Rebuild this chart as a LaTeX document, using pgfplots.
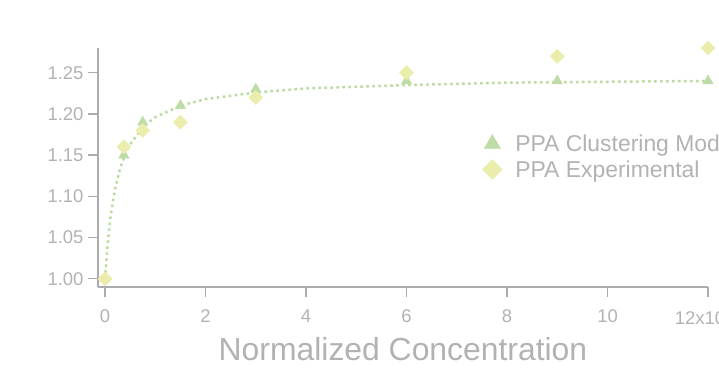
\documentclass[border=0pt]{standalone}
\usepackage{pgfplots}
\pgfplotsset{compat=1.18}
\usepackage{fontspec}
\setmainfont{Liberation Sans}

\definecolor{modelgreen}{RGB}{190,220,165}
\definecolor{expyellow}{RGB}{234,237,172}
\definecolor{fitgreen}{RGB}{186,219,158}
\definecolor{axisgray}{RGB}{172,172,172}
\definecolor{textgray}{RGB}{178,178,178}

\begin{document}
\begin{tikzpicture}[x=1bp,y=1bp]
\path[use as bounding box, clip] (0,0) rectangle (719,368);
\begin{axis}[
  at={(98bp,81bp)}, anchor=south west,
  scale only axis, width=610bp, height=239bp,
  xmin=-0.14, xmax=12, ymin=0.99, ymax=1.28,
  axis x line=bottom, axis y line=left,
  axis line style={-, axisgray, line width=1.3pt},
  tick style={axisgray, line width=1.3pt},
  tick align=outside, major tick length=10bp,
  xtick={0,2,4,6,8,10,12},
  xticklabels={0,2,4,6,8,10,{12x10$^{\mathsf{-3}}$}},
  ytick={1.00,1.05,1.10,1.15,1.20,1.25},
  yticklabel style={/pgf/number format/fixed, /pgf/number format/fixed zerofill,
    /pgf/number format/precision=2, xshift=-1bp},
  /pgf/number format/assume math mode=true,
  ticklabel style={font=\fontsize{18.5}{20}\selectfont, text=textgray},
  xticklabel style={yshift=-9bp},
  xlabel={Normalized Concentration},
  xlabel style={font=\fontsize{32}{36}\selectfont, text=textgray, yshift=-6bp},
  legend cell align=left,
  legend style={draw=none, fill=none, at={(0.625,0.545)}, anchor=west,
    font=\fontsize{23}{26}\selectfont, text=textgray, row sep=3.5bp},
  clip=false,
]
% fitted saturation curve
\addplot[fitgreen, line width=2.5bp, dash pattern=on 2.5bp off 3.5bp, forget plot] coordinates {
  (0,1.000) (0.05,1.041) (0.1,1.070) (0.15,1.092) (0.2,1.109) (0.3,1.134)
  (0.4,1.151) (0.5,1.163) (0.75,1.184) (1,1.196) (1.5,1.210) (2,1.218)
  (3,1.226) (4,1.231) (5,1.233) (6,1.235) (8,1.238) (10,1.239) (12,1.240)
};
% clustering model
\addplot[only marks, mark=triangle*, mark size=6bp, color=modelgreen,
  legend image code/.code={\path[draw=none, fill=none] (0,0) -- (0.3cm+21bp,0);
    \draw[modelgreen, fill=modelgreen] plot[mark=triangle*, mark size=9.5bp] coordinates {(0.3cm,0cm)};}]
  coordinates {
  (0,1.00) (0.375,1.15) (0.75,1.19) (1.5,1.21) (3,1.23) (6,1.24) (9,1.24) (12,1.24)
};
\addlegendentry{PPA Clustering Model}
% experiment
\addplot[only marks, mark=square*, mark size=5bp, mark options={rotate=45}, color=expyellow,
  legend image code/.code={\path[draw=none, fill=none] (0,0) -- (0.3cm+21bp,0);
    \draw[expyellow, fill=expyellow] plot[mark=square*, mark size=7bp, mark options={rotate=45}] coordinates {(0.3cm,0cm)};}]
  coordinates {
  (0,1.00) (0.375,1.16) (0.75,1.18) (1.5,1.19) (3,1.22) (6,1.25) (9,1.27) (12,1.28)
};
\addlegendentry{PPA Experimental}
\end{axis}
\end{tikzpicture}
\end{document}
